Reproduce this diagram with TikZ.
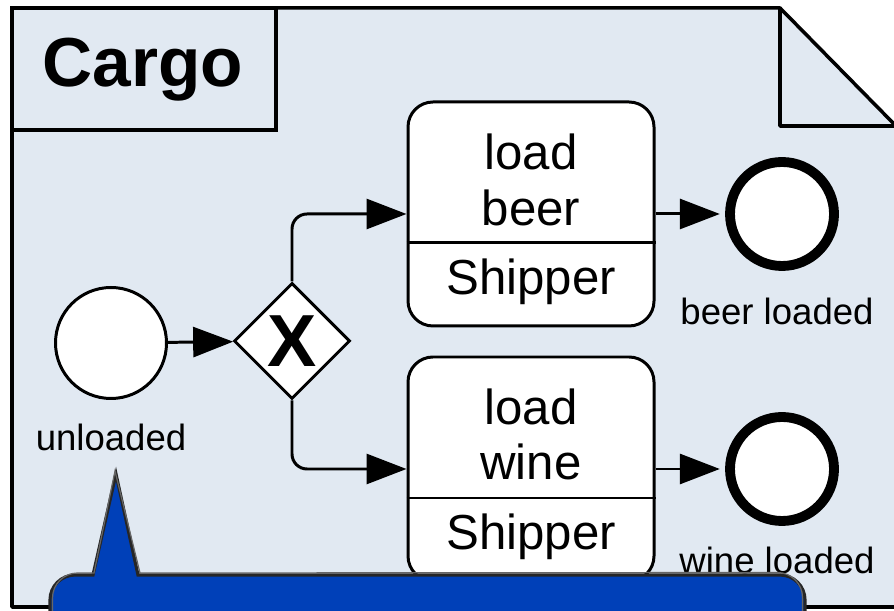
\documentclass[tikz,border=0pt]{standalone}
\usepackage{fontspec}
\setmainfont{Liberation Sans}
\usetikzlibrary{arrows.meta,shapes.geometric}
\definecolor{docfill}{RGB}{225,233,242}
\definecolor{noteblue}{RGB}{0,64,184}
\begin{document}
\begin{tikzpicture}[
    startev/.style={circle, draw, line width=1.7pt, fill=white, minimum size=2.22cm, inner sep=0pt},
    endev/.style={circle, draw, line width=5.6pt, fill=white, minimum size=2.08cm, inner sep=0pt},
    xorgw/.style={diamond, draw, line width=1.7pt, fill=white, minimum size=2.32cm, inner sep=0pt, font=\fontsize{42}{42}\selectfont\bfseries},
    taskbox/.style={draw, line width=1.7pt, fill=white, rounded corners=0.5cm, minimum width=4.92cm, minimum height=4.48cm, inner sep=0pt},
    tasktext/.style={font=\fontsize{28}{28}\selectfont},
    evlabel/.style={font=\fontsize{20.8}{21}\selectfont},
    flow/.style={line width=1.7pt, -{Triangle[length=0.8cm, width=0.6cm]}, rounded corners=0.3cm}
  ]
    \useasboundingbox (0,0) rectangle (17.88,12.22);
    \clip (0,0) rectangle (17.88,12.22);

    % Data object (document with folded corner)
    \draw[line width=2pt, fill=docfill, line join=round] (0.24,0.08) -- (0.24,12.06) -- (15.6,12.06) -- (17.92,9.70) -- (17.92,0.08) -- cycle;
    \draw[line width=2pt, line join=round] (15.6,12.06) -- (15.6,9.70) -- (17.92,9.70);

    % Name tab
    \draw[line width=2pt] (0.24,9.62) rectangle (5.52,12.06);
    \node[font=\fontsize{39.5}{40}\selectfont\bfseries] (cargo) at (2.86,10.82) {Cargo};

    % Events and gateway
    \node[startev] (unloaded) at (2.22,5.36) {};
    \node[evlabel] (unloadedlbl) at (2.22,3.48) {unloaded};
    \node[xorgw] (gw) at (5.84,5.40) {X};

    % Tasks
    \node[taskbox] (beer) at (10.62,7.94) {};
    \draw[line width=1.7pt] (beer.west |- 0,7.36) -- (beer.east |- 0,7.36);
    \node[tasktext] (beerl1) at (10.62,9.18) {load};
    \node[tasktext] (beerl2) at (10.62,8.06) {beer};
    \node[tasktext] (beerrole) at (10.62,6.58) {Shipper};

    \node[taskbox] (wine) at (10.62,2.84) {};
    \draw[line width=1.7pt] (wine.west |- 0,2.26) -- (wine.east |- 0,2.26);
    \node[tasktext] (winel1) at (10.62,4.08) {load};
    \node[tasktext] (winel2) at (10.62,2.98) {wine};
    \node[tasktext] (winerole) at (10.62,1.48) {Shipper};

    % End events
    \node[endev] (beerend) at (15.64,7.94) {};
    \node[evlabel] (beerendlbl) at (15.54,6.00) {beer loaded};
    \node[endev] (wineend) at (15.64,2.84) {};
    \node[evlabel] (wineendlbl) at (15.54,1.02) {wine loaded};

    % Sequence flows
    \draw[flow] (unloaded) -- (gw);
    \draw[flow] (gw.north) |- (beer.west);
    \draw[flow] (gw.south) |- (wine.west);
    \draw[flow, shorten >=3pt] (beer) -- (beerend);
    \draw[flow, shorten >=3pt] (wine) -- (wineend);

    % Callout
    \fill[noteblue, rounded corners=0.5cm] (1.0,-1) -- (1.0,0.72) [sharp corners] -- (1.86,0.72) -- (2.32,2.74) -- (2.76,0.72) [rounded corners=0.5cm] -- (16.1,0.72) -- (16.1,-1) -- cycle;
    \draw[line width=1.8pt, black!85, rounded corners=0.5cm] (1.0,-1) -- (1.0,0.72) [sharp corners] -- (1.86,0.72) -- (2.32,2.74) -- (2.76,0.72) [rounded corners=0.5cm] -- (16.1,0.72) -- (16.1,-1);
    \draw[line width=0.7pt, black!60, rounded corners=0.5cm] (1.05,-1) -- (1.05,0.76) [sharp corners] -- (1.88,0.76) -- (2.30,2.80) -- (2.80,0.76) [rounded corners=0.5cm] -- (16.05,0.77) -- (16.05,-1);
\end{tikzpicture}
\end{document}
